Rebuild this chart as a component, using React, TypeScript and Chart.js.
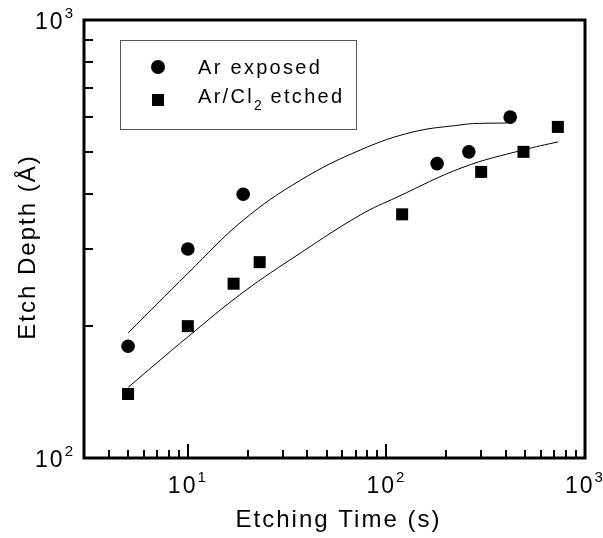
import React, { useEffect, useRef } from "react";
import { Chart, registerables } from "chart.js";

Chart.register(...registerables);

// ---- Data ----
const arTime = [5, 10, 19, 180, 260, 420];
const arDepth = [180, 300, 400, 470, 500, 600];

const clTime = [5, 10, 17, 23, 120, 300, 490, 730];
const clDepth = [140, 200, 250, 280, 360, 450, 500, 570];

// fitted guide curves
const arFitTime = [5, 10, 19, 37, 74, 136, 243, 274, 405];
const arFitDepth = [193, 264, 349, 431, 505, 555, 577, 580, 582];

const clFitTime = [5, 10, 19, 37, 74, 113, 243, 488, 732];
const clFitDepth = [145, 189, 239, 294, 359, 394, 461, 505, 527];

// ticks
const xMajorTicks = [10, 100, 1000];
const xMajorLabels = [["10", "1"], ["10", "2"], ["10", "3"]];
const xMinorTicks = [4, 5, 6, 7, 8, 9, 20, 30, 40, 50, 60, 70, 80, 90, 200, 300, 400, 500, 600, 700, 800, 900];
const xInnerMajor = [10, 100];
const yMajorTicks = [100, 1000];
const yMajorLabels = [["10", "2"], ["10", "3"]];
const yMinorTicks = [200, 300, 400, 500, 600, 700, 800, 900];

const xTitle = "Etching Time (s)";
const yTitle = "Etch Depth (Å)";
const legendLabels = ["Ar exposed", ["Ar/Cl", "2", " etched"]];

const FONT = '"Liberation Sans", Arial, Helvetica, sans-serif';

const toXY = (xs: number[], ys: number[]) => xs.map((x, i) => ({ x, y: ys[i] }));

const decorPlugin = {
  id: "decor",
  afterDraw(chart: any) {
    const ctx: CanvasRenderingContext2D = chart.ctx;
    const { left, right, top, bottom } = chart.chartArea;
    const xs = chart.scales.x;
    const ys = chart.scales.y;
    ctx.save();
    ctx.strokeStyle = "#000";
    ctx.fillStyle = "#000";

    // frame
    ctx.lineWidth = 3;
    ctx.strokeRect(left, top, right - left, bottom - top);

    // inward ticks
    ctx.lineWidth = 2;
    ctx.beginPath();
    xMinorTicks.forEach((v) => {
      const px = Math.round(xs.getPixelForValue(v));
      ctx.moveTo(px, bottom);
      ctx.lineTo(px, bottom - 8);
    });
    xInnerMajor.forEach((v) => {
      const px = Math.round(xs.getPixelForValue(v));
      ctx.moveTo(px, bottom);
      ctx.lineTo(px, bottom - 14);
    });
    yMinorTicks.forEach((v) => {
      const py = Math.round(ys.getPixelForValue(v));
      ctx.moveTo(left, py);
      ctx.lineTo(left + 9, py);
    });
    ctx.stroke();

    (ctx as any).letterSpacing = "2px";
    ctx.textBaseline = "alphabetic";
    ctx.textAlign = "left";
    const mainFont = `23px ${FONT}`;
    const supFont = `15px ${FONT}`;
    const drawPow = (base: string, exp: string, x: number, baseY: number, align: string) => {
      ctx.font = mainFont;
      const wb = ctx.measureText(base).width;
      ctx.font = supFont;
      const we = ctx.measureText(exp).width;
      const total = wb + we - 2;
      const start = align === "center" ? x - total / 2 : x - total;
      ctx.font = mainFont;
      ctx.fillText(base, start, baseY);
      ctx.font = supFont;
      ctx.fillText(exp, start + wb, baseY - 11);
    };

    xMajorTicks.forEach((v, i) => {
      const px = xs.getPixelForValue(v);
      drawPow(xMajorLabels[i][0], xMajorLabels[i][1], px - 1, bottom + 35, "center");
    });
    yMajorTicks.forEach((v, i) => {
      const py = ys.getPixelForValue(v);
      drawPow(yMajorLabels[i][0], yMajorLabels[i][1], left - 11, py + 9, "right");
    });

    // axis titles
    ctx.font = `24px ${FONT}`;
    ctx.textAlign = "center";
    ctx.fillText(xTitle, (left + right) / 2 + 4, bottom + 69);
    ctx.save();
    ctx.translate(35, (top + bottom) / 2 + 8);
    ctx.rotate(-Math.PI / 2);
    ctx.fillText(yTitle, 0, 0);
    ctx.restore();

    // legend
    ctx.textAlign = "left";
    ctx.lineWidth = 1;
    ctx.strokeStyle = "#555";
    ctx.strokeRect(120.5, 40.5, 236, 89);
    ctx.beginPath();
    ctx.arc(158, 67, 7, 0, Math.PI * 2);
    ctx.fill();
    ctx.fillRect(152, 94, 12, 12);
    ctx.font = `20px ${FONT}`;
    (ctx as any).letterSpacing = "2.3px";
    ctx.fillText(legendLabels[0] as string, 198, 74);
    const parts = legendLabels[1] as string[];
    let cx = 198;
    ctx.font = `20px ${FONT}`;
    ctx.fillText(parts[0], cx, 103);
    cx += ctx.measureText(parts[0]).width;
    ctx.font = `14px ${FONT}`;
    (ctx as any).letterSpacing = "1px";
    ctx.fillText(parts[1], cx, 110);
    cx += ctx.measureText(parts[1]).width;
    ctx.font = `20px ${FONT}`;
    (ctx as any).letterSpacing = "2.3px";
    ctx.fillText(parts[2], cx, 103);

    ctx.restore();
  },
};

export default function App() {
  const ref = useRef<HTMLCanvasElement | null>(null);
  useEffect(() => {
    document.body.style.margin = "0";
    const canvas = ref.current!;
    const chart = new Chart(canvas, {
      type: "scatter",
      data: {
        datasets: [
          {
            label: "Ar fit",
            type: "line",
            data: toXY(arFitTime, arFitDepth),
            borderColor: "#000",
            borderWidth: 1,
            pointRadius: 0,
            fill: false,
            tension: 0.4,
          } as any,
          {
            label: "Ar/Cl2 fit",
            type: "line",
            data: toXY(clFitTime, clFitDepth),
            borderColor: "#000",
            borderWidth: 1,
            pointRadius: 0,
            fill: false,
            tension: 0.4,
          } as any,
          {
            label: "Ar exposed",
            data: toXY(arTime, arDepth),
            pointStyle: "circle",
            pointRadius: 6.8,
            pointBorderWidth: 0,
            backgroundColor: "#000",
            borderColor: "#000",
          },
          {
            label: "Ar/Cl2 etched",
            data: toXY(clTime, clDepth),
            pointStyle: "rect",
            pointRadius: 8.5,
            pointBorderWidth: 0,
            backgroundColor: "#000",
            borderColor: "#000",
          },
        ],
      },
      options: {
        animation: false,
        responsive: false,
        devicePixelRatio: 1,
        layout: { padding: { left: 0, right: 18, top: 20, bottom: 0 } },
        plugins: { legend: { display: false }, tooltip: { enabled: false } },
        events: [],
        scales: {
          x: {
            type: "logarithmic",
            min: 3,
            max: 1000,
            grid: { display: false },
            border: { display: false },
            ticks: { display: false },
            afterFit: (s: any) => {
              s.height = 80;
            },
          },
          y: {
            type: "logarithmic",
            min: 100,
            max: 1000,
            grid: { display: false },
            border: { display: false },
            ticks: { display: false },
            afterFit: (s: any) => {
              s.width = 84;
            },
          },
        },
      } as any,
      plugins: [decorPlugin],
    });
    return () => chart.destroy();
  }, []);
  return (
    <div style={{ width: 603, height: 538, background: "#fff" }}>
      <canvas ref={ref} width={603} height={538} style={{ display: "block" }} />
    </div>
  );
}
